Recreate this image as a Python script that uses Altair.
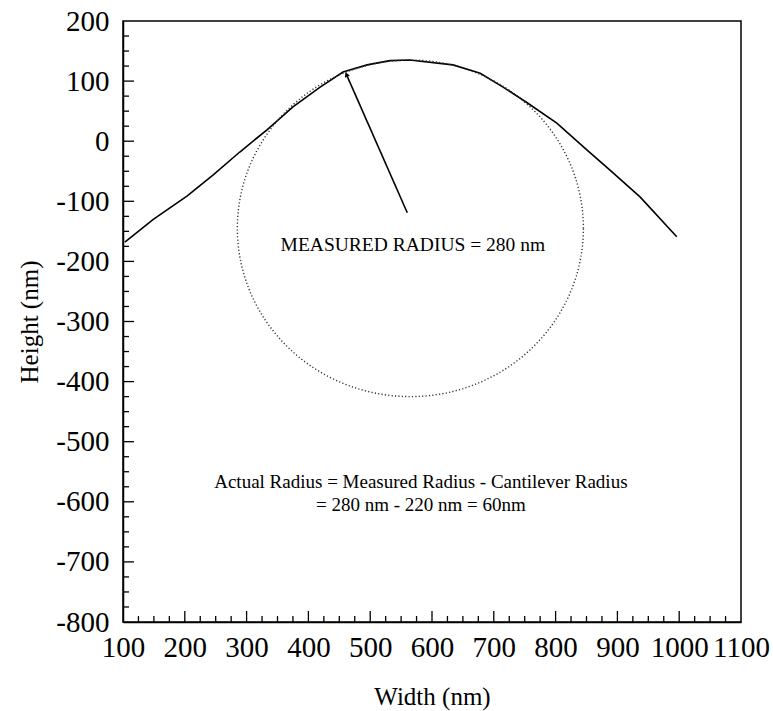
import altair as alt
import pandas as pd
import numpy as np

# Measured profile (Width nm, Height nm)
profile_x = [103, 149, 204, 246, 289, 333, 375, 419, 456, 495, 532, 564, 634, 678, 715, 754, 802, 851, 888, 937, 996]
profile_y = [-168, -130, -91, -56, -18, 19, 57, 90, 115, 127, 134, 135, 127, 113, 90, 64, 30, -15, -48, -93, -159]

# Fitted circle
circle_center_x = 565
circle_center_y = -145
circle_radius = 280

# Radius arrow (from inside point to the tip on the curve)
arrow_from = (560, -119)
arrow_to = (462, 110)

x_ticks = [100, 200, 300, 400, 500, 600, 700, 800, 900, 1000, 1100]
y_ticks = [200, 100, 0, -100, -200, -300, -400, -500, -600, -700, -800]
x_minor = [v for v in range(125, 1100, 25) if v % 100 != 0]
y_minor = [v for v in range(-775, 200, 25) if v % 100 != 0]

texts = ["MEASURED RADIUS = 280 nm",
         "Actual Radius = Measured Radius - Cantilever Radius",
         "= 280 nm - 220 nm = 60nm"]
text_x = [569, 582, 582]
text_y = [-173, -567, -605]
text_size = [19.5, 19, 19]

W, H = 618, 601
FONT = "Liberation Serif"

xs = alt.Scale(domain=[100, 1100], nice=False, zero=False)
ys = alt.Scale(domain=[-800, 200], nice=False, zero=False)

prof = pd.DataFrame({"x": profile_x, "y": profile_y, "o": range(len(profile_x))})
ang = np.linspace(0, 2 * np.pi, 241)
circ = pd.DataFrame({"x": circle_center_x + circle_radius * np.cos(ang),
                     "y": circle_center_y + circle_radius * np.sin(ang),
                     "o": range(len(ang))})

base_x = alt.X("x:Q", scale=xs, axis=alt.Axis(values=x_ticks, ticks=False, grid=False,
                                               labelExpr="'' + datum.value",
                                               labelFontSize=29, labelFont=FONT, labelColor="black",
                                               labelPadding=11, domainColor="black", domainWidth=1.5,
                                               title="Width (nm)", titleFont=FONT, titleFontSize=25,
                                               titleFontWeight="normal", titleColor="black",
                                               titlePadding=22, labelOverlap=False, labelFlush=False))
base_y = alt.Y("y:Q", scale=ys, axis=alt.Axis(values=y_ticks, ticks=False, grid=False,
                                               labelExpr="'' + datum.value",
                                               labelFontSize=29, labelFont=FONT, labelColor="black",
                                               labelPadding=14, domainColor="black", domainWidth=1.5,
                                               title="Height (nm)", titleFont=FONT, titleFontSize=25,
                                               titleFontWeight="normal", titleColor="black",
                                               titlePadding=13, labelOverlap=False))

profile_line = alt.Chart(prof).mark_line(color="black", strokeWidth=1.6).encode(
    x=base_x, y=base_y, order="o:Q")

circle_line = alt.Chart(circ).mark_line(color="#333333", strokeWidth=1.4, strokeDash=[1.2, 2.2]).encode(
    x=alt.X("x:Q", scale=xs), y=alt.Y("y:Q", scale=ys), order="o:Q")

arrow_df = pd.DataFrame({"x": [arrow_from[0]], "y": [arrow_from[1]],
                         "x2": [arrow_to[0]], "y2": [arrow_to[1]]})
arrow = alt.Chart(arrow_df).mark_rule(color="black", strokeWidth=1.6).encode(
    x=alt.X("x:Q", scale=xs), y=alt.Y("y:Q", scale=ys), x2="x2:Q", y2="y2:Q")
head = alt.Chart(pd.DataFrame({"x": [arrow_to[0]], "y": [arrow_to[1]]})).mark_point(
    shape="triangle", filled=True, color="black", size=30, angle=336, opacity=1).encode(
    x=alt.X("x:Q", scale=xs), y=alt.Y("y:Q", scale=ys))

tdf = pd.DataFrame({"t": texts, "x": text_x, "y": text_y, "s": text_size})
labels = alt.Chart(tdf).mark_text(font=FONT, color="black", align="center", baseline="middle").encode(
    x=alt.X("x:Q", scale=xs), y=alt.Y("y:Q", scale=ys), text="t:N",
    size=alt.Size("s:Q", scale=None, legend=None))

# inward ticks
xt_major = alt.Chart(pd.DataFrame({"x": x_ticks[1:-1]})).mark_rule(color="black", strokeWidth=1.3).encode(
    x=alt.X("x:Q", scale=xs), y=alt.value(H), y2=alt.value(H - 11))
xt_minor = alt.Chart(pd.DataFrame({"x": x_minor})).mark_rule(color="black", strokeWidth=1.3).encode(
    x=alt.X("x:Q", scale=xs), y=alt.value(H), y2=alt.value(H - 6))
yt_major = alt.Chart(pd.DataFrame({"y": y_ticks[1:-1]})).mark_rule(color="black", strokeWidth=1.3).encode(
    y=alt.Y("y:Q", scale=ys), x=alt.value(0), x2=alt.value(11))
yt_minor = alt.Chart(pd.DataFrame({"y": y_minor})).mark_rule(color="black", strokeWidth=1.3).encode(
    y=alt.Y("y:Q", scale=ys), x=alt.value(0), x2=alt.value(6))

chart = alt.layer(profile_line, circle_line, arrow, head, labels,
                  xt_major, xt_minor, yt_major, yt_minor).properties(
    width=W, height=H,
    autosize=alt.AutoSizeParams(type="none"),
    padding={"left": 123, "top": 21, "right": 32, "bottom": 89},
    background="white",
).configure_view(stroke="black", strokeWidth=1.5)

chart.save("out.html", embed_options={"renderer": "svg", "actions": False})
